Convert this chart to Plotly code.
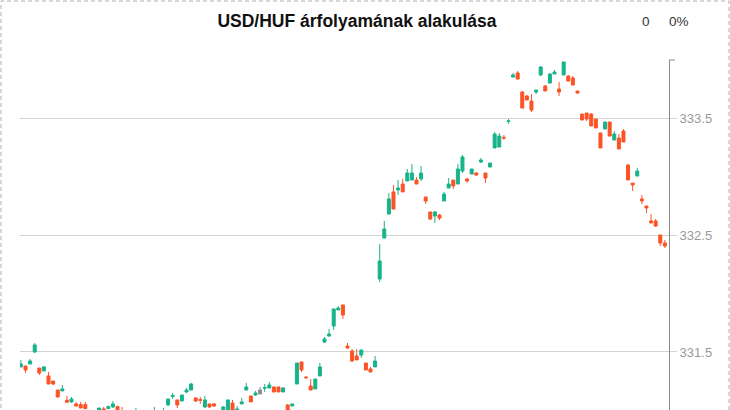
import plotly.graph_objects as go

# ---- data ----
opens = [
 331.372, 331.380, 331.397, 331.500, 331.363, 331.338, 331.295, 331.252, 331.175, 331.167,
 331.087, 331.073, 331.056, 331.050, 331.050, 330.980, 330.960, 330.990, 331.013, 331.016,
 331.030, 331.033, 330.990, 330.960, 330.940, 330.960, 330.970, 330.950, 330.980, 330.960,
 330.990, 330.970, 331.047, 331.120, 331.090, 331.081, 331.158, 331.175, 331.107, 331.092,
 331.030, 331.056, 331.056, 330.990, 330.990, 330.980, 331.064, 330.990, 331.056, 331.175,
 331.124, 331.132, 331.141, 331.190, 331.192, 331.201, 331.201, 331.158, 331.047, 331.038,
 331.226, 331.415, 331.285, 331.209, 331.184, 331.295, 331.585, 331.637, 331.722, 331.859,
 331.902, 331.551, 331.509, 331.466, 331.474, 331.406, 331.355, 331.372, 332.124, 332.474,
 332.679, 332.868, 332.885, 332.936, 332.962, 332.970, 332.970, 332.979, 332.825, 332.697,
 332.662, 332.671, 332.791, 332.902, 332.970, 332.936, 333.047, 332.979, 333.021, 333.030,
 333.124, 333.030, 333.081, 333.244, 333.252, 333.335, 333.470, 333.850, 333.885, 333.722,
 333.688, 333.645, 333.722, 333.868, 333.774, 333.799, 333.876, 333.748, 333.868, 333.859,
 333.842, 333.731, 333.534, 333.543, 333.534, 333.491, 333.372, 333.406, 333.466, 333.312,
 333.329, 333.389, 333.098, 332.944, 333.004, 332.808, 332.748, 332.620, 332.620, 332.500,
 332.432,
]
highs = [
 331.432, 331.380, 331.440, 331.577, 331.363, 331.380, 331.329, 331.252, 331.175, 331.218,
 331.124, 331.115, 331.073, 331.073, 331.073, 330.990, 330.990, 331.021, 331.030, 331.041,
 331.081, 331.041, 331.030, 330.970, 330.980, 331.021, 330.980, 330.990, 330.990, 331.030,
 330.995, 331.021, 331.098, 331.150, 331.090, 331.132, 331.192, 331.235, 331.115, 331.115,
 331.124, 331.056, 331.064, 330.995, 331.038, 331.090, 331.090, 331.038, 331.107, 331.235,
 331.124, 331.167, 331.201, 331.226, 331.244, 331.201, 331.201, 331.201, 331.056, 331.056,
 331.406, 331.415, 331.295, 331.269, 331.269, 331.406, 331.628, 331.697, 331.868, 331.893,
 331.902, 331.577, 331.526, 331.526, 331.517, 331.406, 331.372, 331.466, 332.423, 332.620,
 332.859, 332.927, 332.970, 332.979, 333.064, 333.107, 332.996, 333.090, 332.825, 332.697,
 332.705, 332.679, 332.868, 332.987, 332.970, 333.107, 333.184, 332.987, 333.064, 333.038,
 333.158, 333.030, 333.115, 333.380, 333.372, 333.355, 333.491, 333.885, 333.902, 333.731,
 333.697, 333.705, 333.739, 333.944, 333.782, 333.885, 333.910, 333.808, 333.979, 333.868,
 333.859, 333.731, 333.534, 333.543, 333.543, 333.491, 333.372, 333.466, 333.466, 333.389,
 333.363, 333.406, 333.107, 332.944, 333.073, 332.842, 332.748, 332.679, 332.637, 332.500,
 332.457,
]
lows = [
 331.372, 331.321, 331.397, 331.491, 331.303, 331.338, 331.226, 331.218, 331.115, 331.167,
 331.070, 331.064, 331.038, 331.021, 331.010, 330.950, 330.950, 330.980, 330.980, 331.016,
 331.021, 330.980, 330.950, 330.930, 330.930, 330.950, 330.940, 330.940, 330.950, 330.950,
 330.960, 330.960, 331.038, 331.098, 331.021, 331.081, 331.150, 331.175, 331.073, 331.056,
 331.021, 331.021, 331.030, 330.960, 330.980, 330.970, 330.980, 330.980, 331.056, 331.175,
 331.073, 331.124, 331.141, 331.158, 331.192, 331.158, 331.158, 331.158, 330.980, 331.038,
 331.226, 331.329, 331.269, 331.175, 331.184, 331.295, 331.577, 331.628, 331.688, 331.859,
 331.782, 331.526, 331.415, 331.432, 331.449, 331.346, 331.329, 331.372, 332.098, 332.474,
 332.679, 332.722, 332.842, 332.868, 332.962, 332.970, 332.936, 332.962, 332.765, 332.628,
 332.603, 332.628, 332.791, 332.902, 332.893, 332.936, 333.030, 332.944, 333.021, 333.004,
 333.115, 332.944, 333.081, 333.244, 333.252, 333.312, 333.449, 333.850, 333.833, 333.585,
 333.654, 333.551, 333.705, 333.859, 333.731, 333.799, 333.876, 333.688, 333.868, 333.816,
 333.782, 333.705, 333.483, 333.474, 333.432, 333.415, 333.244, 333.406, 333.346, 333.312,
 333.235, 333.295, 332.970, 332.876, 333.004, 332.765, 332.688, 332.603, 332.568, 332.406,
 332.389,
]
closes = [
 331.397, 331.346, 331.423, 331.560, 331.321, 331.372, 331.226, 331.226, 331.115, 331.184,
 331.070, 331.098, 331.038, 331.021, 331.016, 330.960, 330.980, 331.021, 330.990, 331.033,
 331.056, 330.990, 330.960, 330.940, 330.970, 330.990, 330.950, 330.980, 330.960, 330.990,
 330.970, 330.995, 331.098, 331.128, 331.047, 331.132, 331.175, 331.226, 331.081, 331.088,
 331.090, 331.030, 331.038, 330.970, 331.030, 331.090, 330.990, 331.013, 331.073, 331.201,
 331.073, 331.150, 331.175, 331.195, 331.218, 331.158, 331.158, 331.192, 330.990, 331.056,
 331.406, 331.346, 331.280, 331.175, 331.269, 331.372, 331.611, 331.654, 331.868, 331.876,
 331.816, 331.534, 331.423, 331.432, 331.517, 331.346, 331.329, 331.423, 332.278, 332.551,
 332.808, 332.722, 332.902, 332.868, 333.030, 333.030, 332.936, 333.030, 332.791, 332.637,
 332.697, 332.645, 332.850, 332.936, 332.919, 333.064, 333.167, 332.962, 333.064, 333.013,
 333.141, 332.987, 333.115, 333.363, 333.346, 333.330, 333.475, 333.868, 333.833, 333.585,
 333.654, 333.568, 333.739, 333.936, 333.731, 333.876, 333.893, 333.722, 333.979, 333.816,
 333.782, 333.714, 333.483, 333.491, 333.432, 333.415, 333.244, 333.466, 333.346, 333.363,
 333.235, 333.295, 332.970, 332.927, 333.047, 332.791, 332.731, 332.603, 332.577, 332.432,
 332.406,
]
neutral_idx = [52]          # candle drawn in grey
periods = list(range(len(opens)))
ytick_vals = [331.5, 332.5, 333.5]
ytick_text = ["331.5", "332.5", "333.5"]
title_text = "USD/HUF árfolyamának alakulása"
change_abs = "0"
change_pct = "0%"

UP = "#17b38b"
DOWN = "#fc5326"
GREY = "#8c8c8c"

main = [i for i in periods if i not in neutral_idx]

def pick(arr, idx):
    return [arr[i] for i in idx]

fig = go.Figure()
fig.add_trace(go.Candlestick(
    x=pick(periods, main), open=pick(opens, main), high=pick(highs, main),
    low=pick(lows, main), close=pick(closes, main),
    increasing=dict(line=dict(color=UP, width=1), fillcolor=UP),
    decreasing=dict(line=dict(color=DOWN, width=1), fillcolor=DOWN),
    whiskerwidth=0, showlegend=False, hoverinfo="skip",
))
fig.add_trace(go.Candlestick(
    x=pick(periods, neutral_idx), open=pick(opens, neutral_idx), high=pick(highs, neutral_idx),
    low=pick(lows, neutral_idx), close=pick(closes, neutral_idx),
    increasing=dict(line=dict(color=GREY, width=1), fillcolor=GREY),
    decreasing=dict(line=dict(color=GREY, width=1), fillcolor=GREY),
    whiskerwidth=0, showlegend=False, hoverinfo="skip",
))

W, H = 730, 410
ML, MR, MT, MB = 20, 61, 60, 0
PW, PH = W - ML - MR, H - MT - MB

fig.update_layout(
    width=W, height=H,
    margin=dict(l=ML, r=MR, t=MT, b=MB, pad=0),
    paper_bgcolor="white", plot_bgcolor="white",
    font=dict(family="Liberation Sans, Arial, sans-serif"),
    boxgap=0.35, boxgroupgap=0,
    hovermode=False,
    title=dict(text="<b>" + title_text + "</b>", x=357 / W, xanchor="center",
               y=1 - 21 / H, yanchor="middle",
               font=dict(size=17.5, color="#111111", family="Liberation Sans, Arial, sans-serif")),
    xaxis=dict(visible=False, range=[-0.2, 140.9], rangeslider=dict(visible=False),
               fixedrange=True),
    yaxis=dict(side="right", range=[331.004, 333.996], tickvals=ytick_vals,
               ticktext=ytick_text, showgrid=True, gridcolor="#d4d4d4", gridwidth=1,
               ticks="outside", ticklen=7, tickcolor="#d4d4d4", tickwidth=1,
               showline=True, linecolor="#8a8a8a", linewidth=1, zeroline=False,
               tickfont=dict(size=13, color="#9a9a9a"), fixedrange=True),
    annotations=[
        dict(text=change_abs, xref="paper", yref="paper",
             x=(645.5 - ML) / PW, y=1 + (MT - 21) / PH, xanchor="center", yanchor="middle",
             showarrow=False, font=dict(size=13.5, color="#333333")),
        dict(text=change_pct, xref="paper", yref="paper",
             x=(679 - ML) / PW, y=1 + (MT - 21) / PH, xanchor="center", yanchor="middle",
             showarrow=False, font=dict(size=13.5, color="#333333")),
    ],
    shapes=[
        dict(type="rect", xref="paper", yref="paper",
             x0=(1 - ML) / PW, x1=(729 - ML) / PW, y0=-0.1, y1=1 + (MT - 1) / PH,
             line=dict(color="#b0b0b0", width=1, dash="4px,3px"), fillcolor="rgba(0,0,0,0)",
             layer="above"),
        dict(type="line", xref="paper", yref="paper",
             x0=1, x1=1 + 6 / PW, y0=1, y1=1,
             line=dict(color="#8a8a8a", width=1), layer="above"),
    ],
)

fig.write_html(
    "out.html",
    config={"displayModeBar": False, "staticPlot": True},
    post_script="document.body.style.margin='0';document.body.style.overflow='hidden';",
)
